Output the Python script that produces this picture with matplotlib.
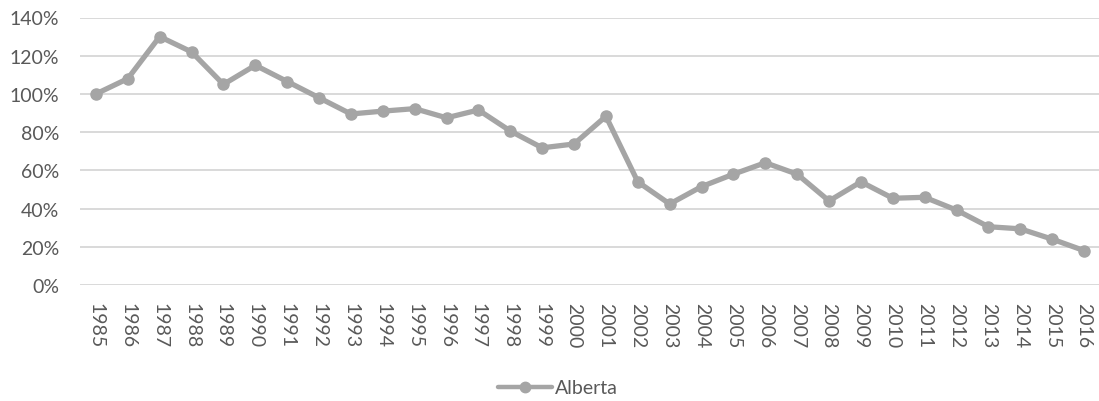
import matplotlib
matplotlib.use("Agg")
import matplotlib.pyplot as plt
from matplotlib.ticker import PercentFormatter

years = [str(y) for y in range(1985, 2017)]
alberta = [100, 108, 130, 122, 105, 115, 106.5, 98, 89.5, 91, 92.3, 87.5,
           91.6, 80.6, 71.8, 73.8, 88.3, 54, 42.4, 51.5, 58, 64, 58, 44,
           54, 45.4, 45.9, 39.2, 30.5, 29.4, 24, 18]

line_color = "#A5A5A5"
text_color = "#595959"
grid_color = "#D9D9D9"

plt.rcParams["font.family"] = ["Lato", "DejaVu Sans"]

fig = plt.figure(figsize=(10.99, 4.02), dpi=100)
ax = fig.add_axes([80 / 1099, (402 - 286) / 402, 1020 / 1099, (286 - 18.5) / 402])

x = list(range(len(years)))
ax.plot(x, alberta, color=line_color, lw=3.8, marker="o", ms=8,
        mfc=line_color, mec=line_color, label="Alberta", solid_capstyle="round",
        zorder=3)

ax.set_xlim(-0.5, len(years) - 0.5)
ax.set_ylim(0, 140)
ax.set_yticks(range(0, 141, 20))
ax.yaxis.set_major_formatter(PercentFormatter(decimals=0))
ax.set_xticks(x)
ax.set_xticklabels(years, rotation=-90)

ax.grid(axis="y", color=grid_color, lw=1.4)
ax.set_axisbelow(True)
for s in ax.spines.values():
    s.set_visible(False)
ax.tick_params(axis="both", length=0, colors=text_color, labelsize=14)
ax.tick_params(axis="x", pad=12)
ax.tick_params(axis="y", pad=15)

leg = fig.legend(loc="center", bbox_to_anchor=(558 / 1099, 1 - 389 / 402),
                 frameon=False, fontsize=14, handlelength=2.8, handletextpad=0.15,
                 labelcolor=text_color)
for h in leg.legend_handles:
    h.set_linewidth(3.2)
    h.set_markersize(7.5)

fig.savefig("out.png", dpi=100)
